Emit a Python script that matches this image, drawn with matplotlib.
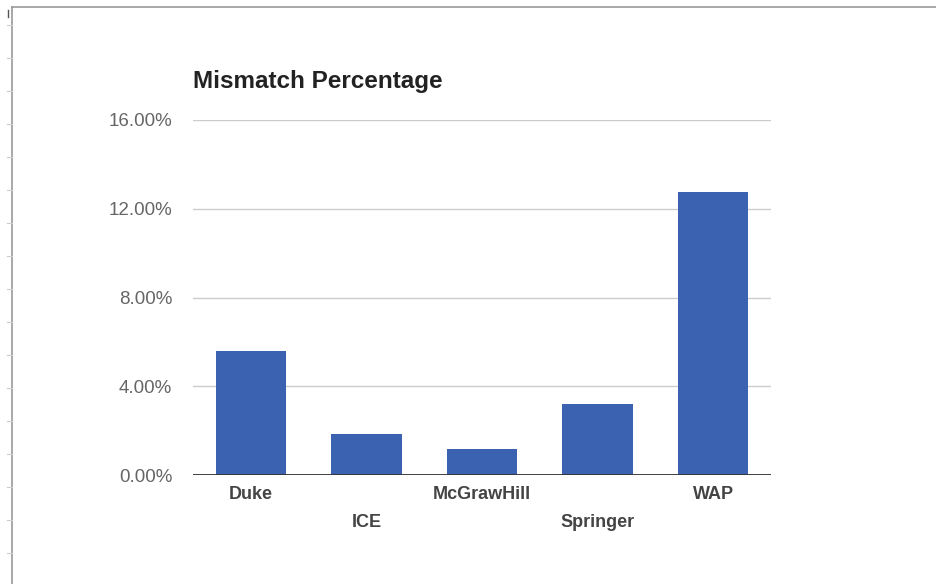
import matplotlib.pyplot as plt
from matplotlib.lines import Line2D
from matplotlib.ticker import FuncFormatter

# data
publishers = ['Duke', 'ICE', 'McGrawHill', 'Springer', 'WAP']
mismatch_pct = [5.6, 1.85, 1.15, 3.2, 12.75]
y_ticks = [0, 4, 8, 12, 16]

W, H = 936, 584
fig = plt.figure(figsize=(W / 100, H / 100), dpi=100)
plt.rcParams['font.family'] = ['Liberation Sans', 'DejaVu Sans']

# page frame of the screenshot (spreadsheet border)
fig.add_artist(Line2D([12 / W, 1], [1 - 7 / H, 1 - 7 / H], color='#999999', lw=1.2))
fig.add_artist(Line2D([12 / W, 12 / W], [0, 1 - 7 / H], color='#999999', lw=1.2))
fig.add_artist(Line2D([8 / W, 8 / W], [1 - 10 / H, 1 - 17 / H], color='#555555', lw=1))
for yy in range(25, 584, 33):
    fig.add_artist(Line2D([7 / W, 12 / W], [1 - yy / H, 1 - yy / H], color='#cccccc', lw=0.8))

ax = fig.add_axes([193 / W, 1 - 475 / H, (771 - 193) / W, (475 - 120) / H])
ax.bar(range(len(publishers)), mismatch_pct, width=0.61, color='#3a62b0', zorder=3)

ax.set_xlim(-0.5, len(publishers) - 0.5)
ax.set_ylim(0, 16)
ax.set_yticks(y_ticks)
ax.yaxis.set_major_formatter(FuncFormatter(lambda v, p: '%.2f%%' % v))
ax.grid(axis='y', color='#cccccc', lw=1, zorder=0)
ax.axhline(0, color='#333333', lw=1.3, zorder=4)

for s in ax.spines.values():
    s.set_visible(False)
ax.tick_params(axis='y', length=0, pad=15, labelsize=13.5, labelcolor='#666666')
ax.set_xticks(range(len(publishers)))
ax.set_xticklabels(publishers, fontsize=13, fontweight='bold', color='#444444')
ax.tick_params(axis='x', length=0)
for i, t in enumerate(ax.xaxis.get_major_ticks()):
    t.set_pad(8 if i % 2 == 0 else 28)

fig.text(193 / W, 1 - 81 / H, 'Mismatch Percentage', fontsize=17.5, fontweight='bold',
         color='#222222', va='center', ha='left')

fig.savefig('out.png', dpi=100, facecolor='white')
